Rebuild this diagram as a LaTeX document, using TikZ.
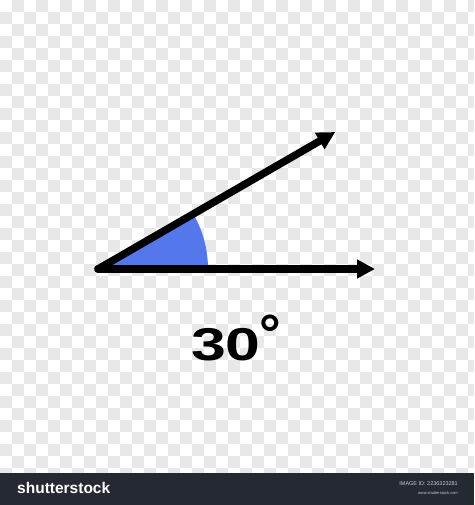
\documentclass[tikz,border=0pt]{standalone}
\usepackage{fontspec}
\setmainfont{Liberation Sans}
\usetikzlibrary{arrows.meta}
\definecolor{checkgrey}{HTML}{E8E8E8}
\definecolor{wedgeblue}{HTML}{5478EC}
\definecolor{footerbg}{HTML}{252932}
\definecolor{footertext}{HTML}{C8CACF}

\begin{document}
\begin{tikzpicture}[x=1pt,y=-1pt,
        ray/.style={line width=7.5pt,line cap=round,-{Triangle[length=18pt,width=18pt]}},
        anglefill/.style={fill=wedgeblue},
        degtext/.style={font=\fontsize{46}{46}\selectfont\bfseries,inner sep=0pt},
        logotext/.style={font=\fontsize{15.5}{16}\selectfont\bfseries,text=white,inner sep=0pt,anchor=west},
        idtext/.style={font=\fontsize{5.5}{6}\selectfont,text=footertext,inner sep=0pt,anchor=east}
    ]
        \useasboundingbox (0,0) rectangle (474,505);
        % checker background
        \fill[white] (0,0) rectangle (474,473);
        \foreach \i in {0,...,39} {
            \foreach \j in {0,...,39} {
                \pgfmathtruncatemacro{\odd}{mod(\i+\j,2)}
                \ifnum\odd=1
                    \fill[checkgrey] (\i*12,\j*12) rectangle ({min(\i*12+12,474)},{min(\j*12+12,473)});
                \fi
            }
        }
        % angle
        \coordinate (O) at (98,269);
        \coordinate (A) at (375,269);
        \path (O) ++(-30:274) coordinate (B);
        \fill[anglefill] (O) -- ++(110,0) arc[start angle=0,end angle=-30,radius=110] -- cycle;
        \draw[ray] (O) -- (A);
        \draw[ray] (O) -- (B);
        \node[degtext,anchor=base west] (lbl) at (191,360)
            {\scalebox{1.36}[1]{30}\hspace{-1pt}\raisebox{8pt}{\fontsize{54}{54}\selectfont °}};
        % footer
        \fill[footerbg] (0,473) rectangle (474,505);
        \node[logotext] (logo) at (17,488) {shutterstock};
        \node[idtext] (imgid) at (458,484) {IMAGE ID: 2236323281};
        \node[idtext,font=\fontsize{4}{5}\selectfont] (site) at (458,493) {www.shutterstock.com};
\end{tikzpicture}
\end{document}
